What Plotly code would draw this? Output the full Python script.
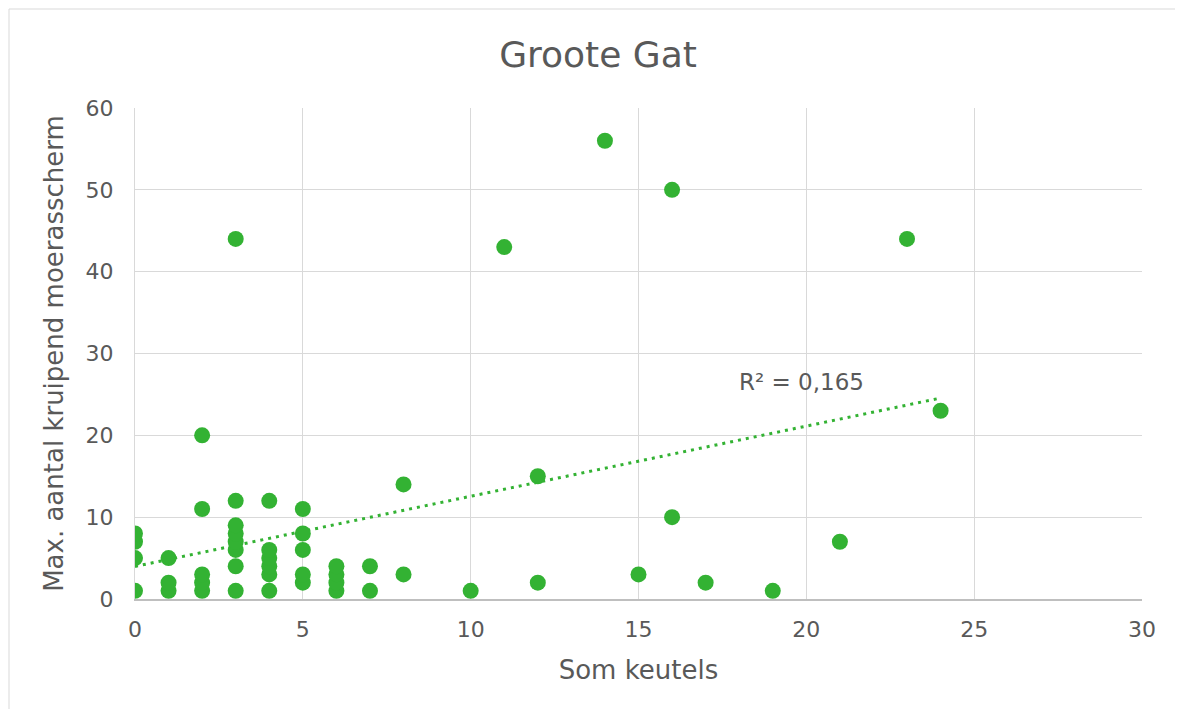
import numpy as np
import plotly.graph_objects as go

# Data
som_keutels = [0, 0, 0, 0,
               1, 1, 1,
               2, 2, 2, 2, 2,
               3, 3, 3, 3, 3, 3, 3, 3,
               4, 4, 4, 4, 4, 4,
               5, 5, 5, 5, 5,
               6, 6, 6, 6,
               7, 7,
               8, 8,
               10, 11, 12, 12, 14, 15, 16, 16, 17, 19, 21, 23, 24]
max_moerasscherm = [1, 5, 7, 8,
                    1, 2, 5,
                    1, 2, 3, 11, 20,
                    1, 4, 6, 7, 8, 9, 12, 44,
                    1, 3, 4, 5, 6, 12,
                    2, 3, 6, 8, 11,
                    1, 2, 3, 4,
                    1, 4,
                    3, 14,
                    1, 43, 2, 15, 56, 3, 50, 10, 2, 1, 7, 44, 23]

x_ticks = [0, 5, 10, 15, 20, 25, 30]
y_ticks = [0, 10, 20, 30, 40, 50, 60]

GREEN = "#33B233"
TXT = "#595959"
FONT = "DejaVu Sans"

xa = np.array(som_keutels, dtype=float)
ya = np.array(max_moerasscherm, dtype=float)
slope, intercept = np.polyfit(xa, ya, 1)
x_line = np.array([xa.min(), xa.max()])
y_line = slope * x_line + intercept

fig = go.Figure()
fig.add_trace(go.Scatter(
    x=x_line, y=y_line, mode="lines",
    line=dict(color=GREEN, width=3, dash="3px,5px"),
    hoverinfo="skip", showlegend=False))
fig.add_trace(go.Scatter(
    x=som_keutels, y=max_moerasscherm, mode="markers",
    marker=dict(color=GREEN, size=16, line=dict(width=0)),
    showlegend=False))

fig.add_annotation(x=19.85, y=26.5, text="R² = 0,165", showarrow=False,
                   font=dict(family=FONT, size=23, color=TXT))

# page body has an 8px margin; figure is sized to fit the window
W, H = 1175, 701
L, R, T, B = 127, 41, 100, 110
PW, PH = W - L - R, H - T - B

# chart border: top and left edges only (the rest lies outside the window)
bx0 = (9 - 8 - L) / PW
by1 = (T + PH - 1) / PH
fig.add_shape(type="line", xref="paper", yref="paper",
              x0=bx0, x1=(W - L) / PW, y0=by1, y1=by1,
              line=dict(color="#d9d9d9", width=1), layer="below")
fig.add_shape(type="line", xref="paper", yref="paper",
              x0=bx0, x1=bx0, y0=-B / PH, y1=by1,
              line=dict(color="#d9d9d9", width=1), layer="below")

fig.update_layout(
    width=W, height=H,
    margin=dict(l=L, r=R, t=T, b=B),
    paper_bgcolor="white", plot_bgcolor="white",
    title=dict(text="Groote Gat", x=(598 - 8) / W, xanchor="center", y=1 - (54 - 8) / H, yanchor="middle",
               font=dict(family=FONT, size=36, color=TXT)),
    font=dict(family=FONT, color=TXT),
    xaxis=dict(range=[0, 30], tickvals=x_ticks, showgrid=True, gridcolor="#d9d9d9", gridwidth=1,
               zeroline=False, showline=True, linecolor="#bfbfbf", linewidth=1.5, mirror=False,
               ticks="", tickfont=dict(family=FONT, size=22, color=TXT),
               ticklabelstandoff=10,
               title=dict(text="Som keutels", font=dict(family=FONT, size=26, color=TXT), standoff=20)),
    yaxis=dict(range=[0, 60], tickvals=y_ticks, showgrid=True, gridcolor="#d9d9d9", gridwidth=1,
               zeroline=False, showline=True, linecolor="#d9d9d9", linewidth=1,
               ticks="", tickfont=dict(family=FONT, size=22, color=TXT),
               ticklabelstandoff=16,
               title=dict(text="Max. aantal kruipend moerasscherm",
                          font=dict(family=FONT, size=26, color=TXT), standoff=14)),
)

fig.write_html("out.html")
